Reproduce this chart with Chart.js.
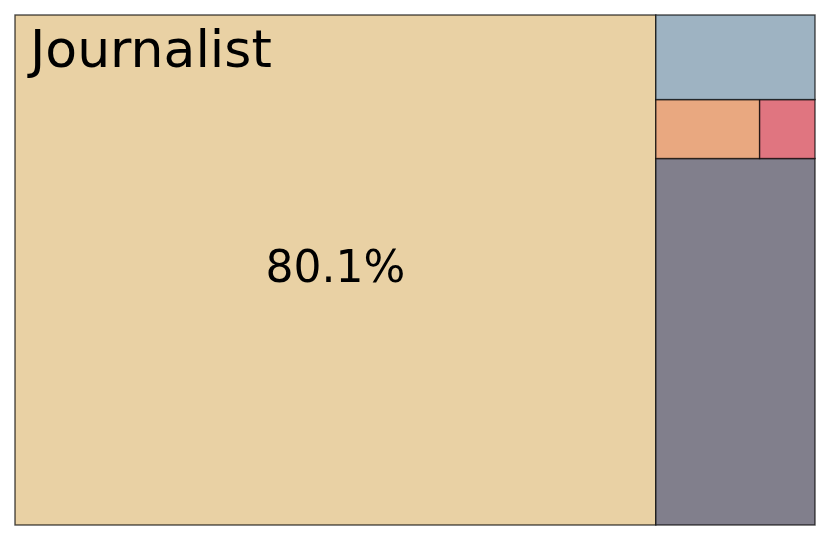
<!DOCTYPE html>
<html>
<head>
<meta charset="utf-8">
<script src="https://cdn.jsdelivr.net/npm/chart.js@4.4.1/dist/chart.umd.min.js"></script>
<style>
  html, body { margin: 0; padding: 0; background: #fff; }
  #wrap { width: 830px; height: 540px; }
</style>
</head>
<body>
<div id="wrap"><canvas id="myChart" width="830" height="540"></canvas></div>
<script>
// treemap data (share of total, %), in drawing order
const categories = ['Journalist', 'Other', 'Group C', 'Group D', 'Group B'];
const shares = [80.1, 14.3, 1.5, 0.8, 3.3];
const colors = ['#E9D1A4', '#817F8C', '#E9A880', '#E07580', '#9EB3C2'];
const labelShown = [true, false, false, false, false];

// squarify layout, same as the python "squarify" package (units 0..100)
function sum(a) { return a.reduce((s, v) => s + v, 0); }

function layoutRow(sizes, x, y, dx, dy) {
    const width = sum(sizes) / dy;
    return sizes.map(s => { const r = {x: x, y: y, dx: width, dy: s / width}; y += s / width; return r; });
}
function layoutCol(sizes, x, y, dx, dy) {
    const height = sum(sizes) / dx;
    return sizes.map(s => { const r = {x: x, y: y, dx: s / height, dy: height}; x += s / height; return r; });
}
function layout(sizes, x, y, dx, dy) {
    return dx >= dy ? layoutRow(sizes, x, y, dx, dy) : layoutCol(sizes, x, y, dx, dy);
}
function leftover(sizes, x, y, dx, dy) {
    if (dx >= dy) {
        const w = sum(sizes) / dy;
        return [x + w, y, dx - w, dy];
    }
    const h = sum(sizes) / dx;
    return [x, y + h, dx, dy - h];
}
function worst(sizes, x, y, dx, dy) {
    return Math.max(...layout(sizes, x, y, dx, dy).map(r => Math.max(r.dx / r.dy, r.dy / r.dx)));
}
function squarify(sizes, x, y, dx, dy) {
    if (sizes.length === 0) return [];
    if (sizes.length === 1) return layout(sizes, x, y, dx, dy);
    let i = 1;
    while (i < sizes.length && worst(sizes.slice(0, i), x, y, dx, dy) >= worst(sizes.slice(0, i + 1), x, y, dx, dy)) i++;
    const current = sizes.slice(0, i);
    const rest = leftover(current, x, y, dx, dy);
    return layout(current, x, y, dx, dy).concat(squarify(sizes.slice(i), ...rest));
}

const total = sum(shares);
const normed = shares.map(v => v * 100 * 100 / total);
const rects = squarify(normed, 0, 0, 100, 100);

// draws the rectangles through the chart's x / y scales
const treemapPlugin = {
    id: 'treemap',
    beforeDatasetsDraw(chart) {
        const ctx = chart.ctx;
        const xs = chart.scales.x, ys = chart.scales.y;
        ctx.save();
        rects.forEach((r, i) => {
            const x0 = xs.getPixelForValue(r.x), x1 = xs.getPixelForValue(r.x + r.dx);
            const y0 = ys.getPixelForValue(r.y + r.dy), y1 = ys.getPixelForValue(r.y);
            ctx.fillStyle = colors[i];
            ctx.fillRect(x0, y0, x1 - x0, y1 - y0);
            ctx.strokeStyle = 'rgba(0,0,0,0.7)';
            ctx.lineWidth = 1.4;
            ctx.strokeRect(x0, y0, x1 - x0, y1 - y0);
        });
        ctx.fillStyle = '#000';
        rects.forEach((r, i) => {
            if (!labelShown[i]) return;
            const x0 = xs.getPixelForValue(r.x), x1 = xs.getPixelForValue(r.x + r.dx);
            const y0 = ys.getPixelForValue(r.y + r.dy), y1 = ys.getPixelForValue(r.y);
            ctx.font = '52px "DejaVu Sans"';
            ctx.textAlign = 'left';
            ctx.textBaseline = 'alphabetic';
            ctx.fillText(categories[i], x0 + 15, y0 + 52);
            ctx.font = '44px "DejaVu Sans"';
            ctx.textAlign = 'center';
            ctx.textBaseline = 'middle';
            ctx.fillText(shares[i].toFixed(1) + '%', (x0 + x1) / 2, (y0 + y1) / 2 + 1);
        });
        ctx.restore();
    }
};

const ctx = document.getElementById('myChart').getContext('2d');
new Chart(ctx, {
    type: 'scatter',
    data: { datasets: [{ data: [], pointRadius: 0 }] },
    options: {
        responsive: false,
        animation: false,
        layout: { padding: { left: 15, top: 15, right: 15, bottom: 15 } },
        plugins: { legend: { display: false }, tooltip: { enabled: false } },
        scales: {
            x: { type: 'linear', min: 0, max: 100, display: false },
            y: { type: 'linear', min: 0, max: 100, display: false }
        }
    },
    plugins: [treemapPlugin]
});
</script>
</body>
</html>
